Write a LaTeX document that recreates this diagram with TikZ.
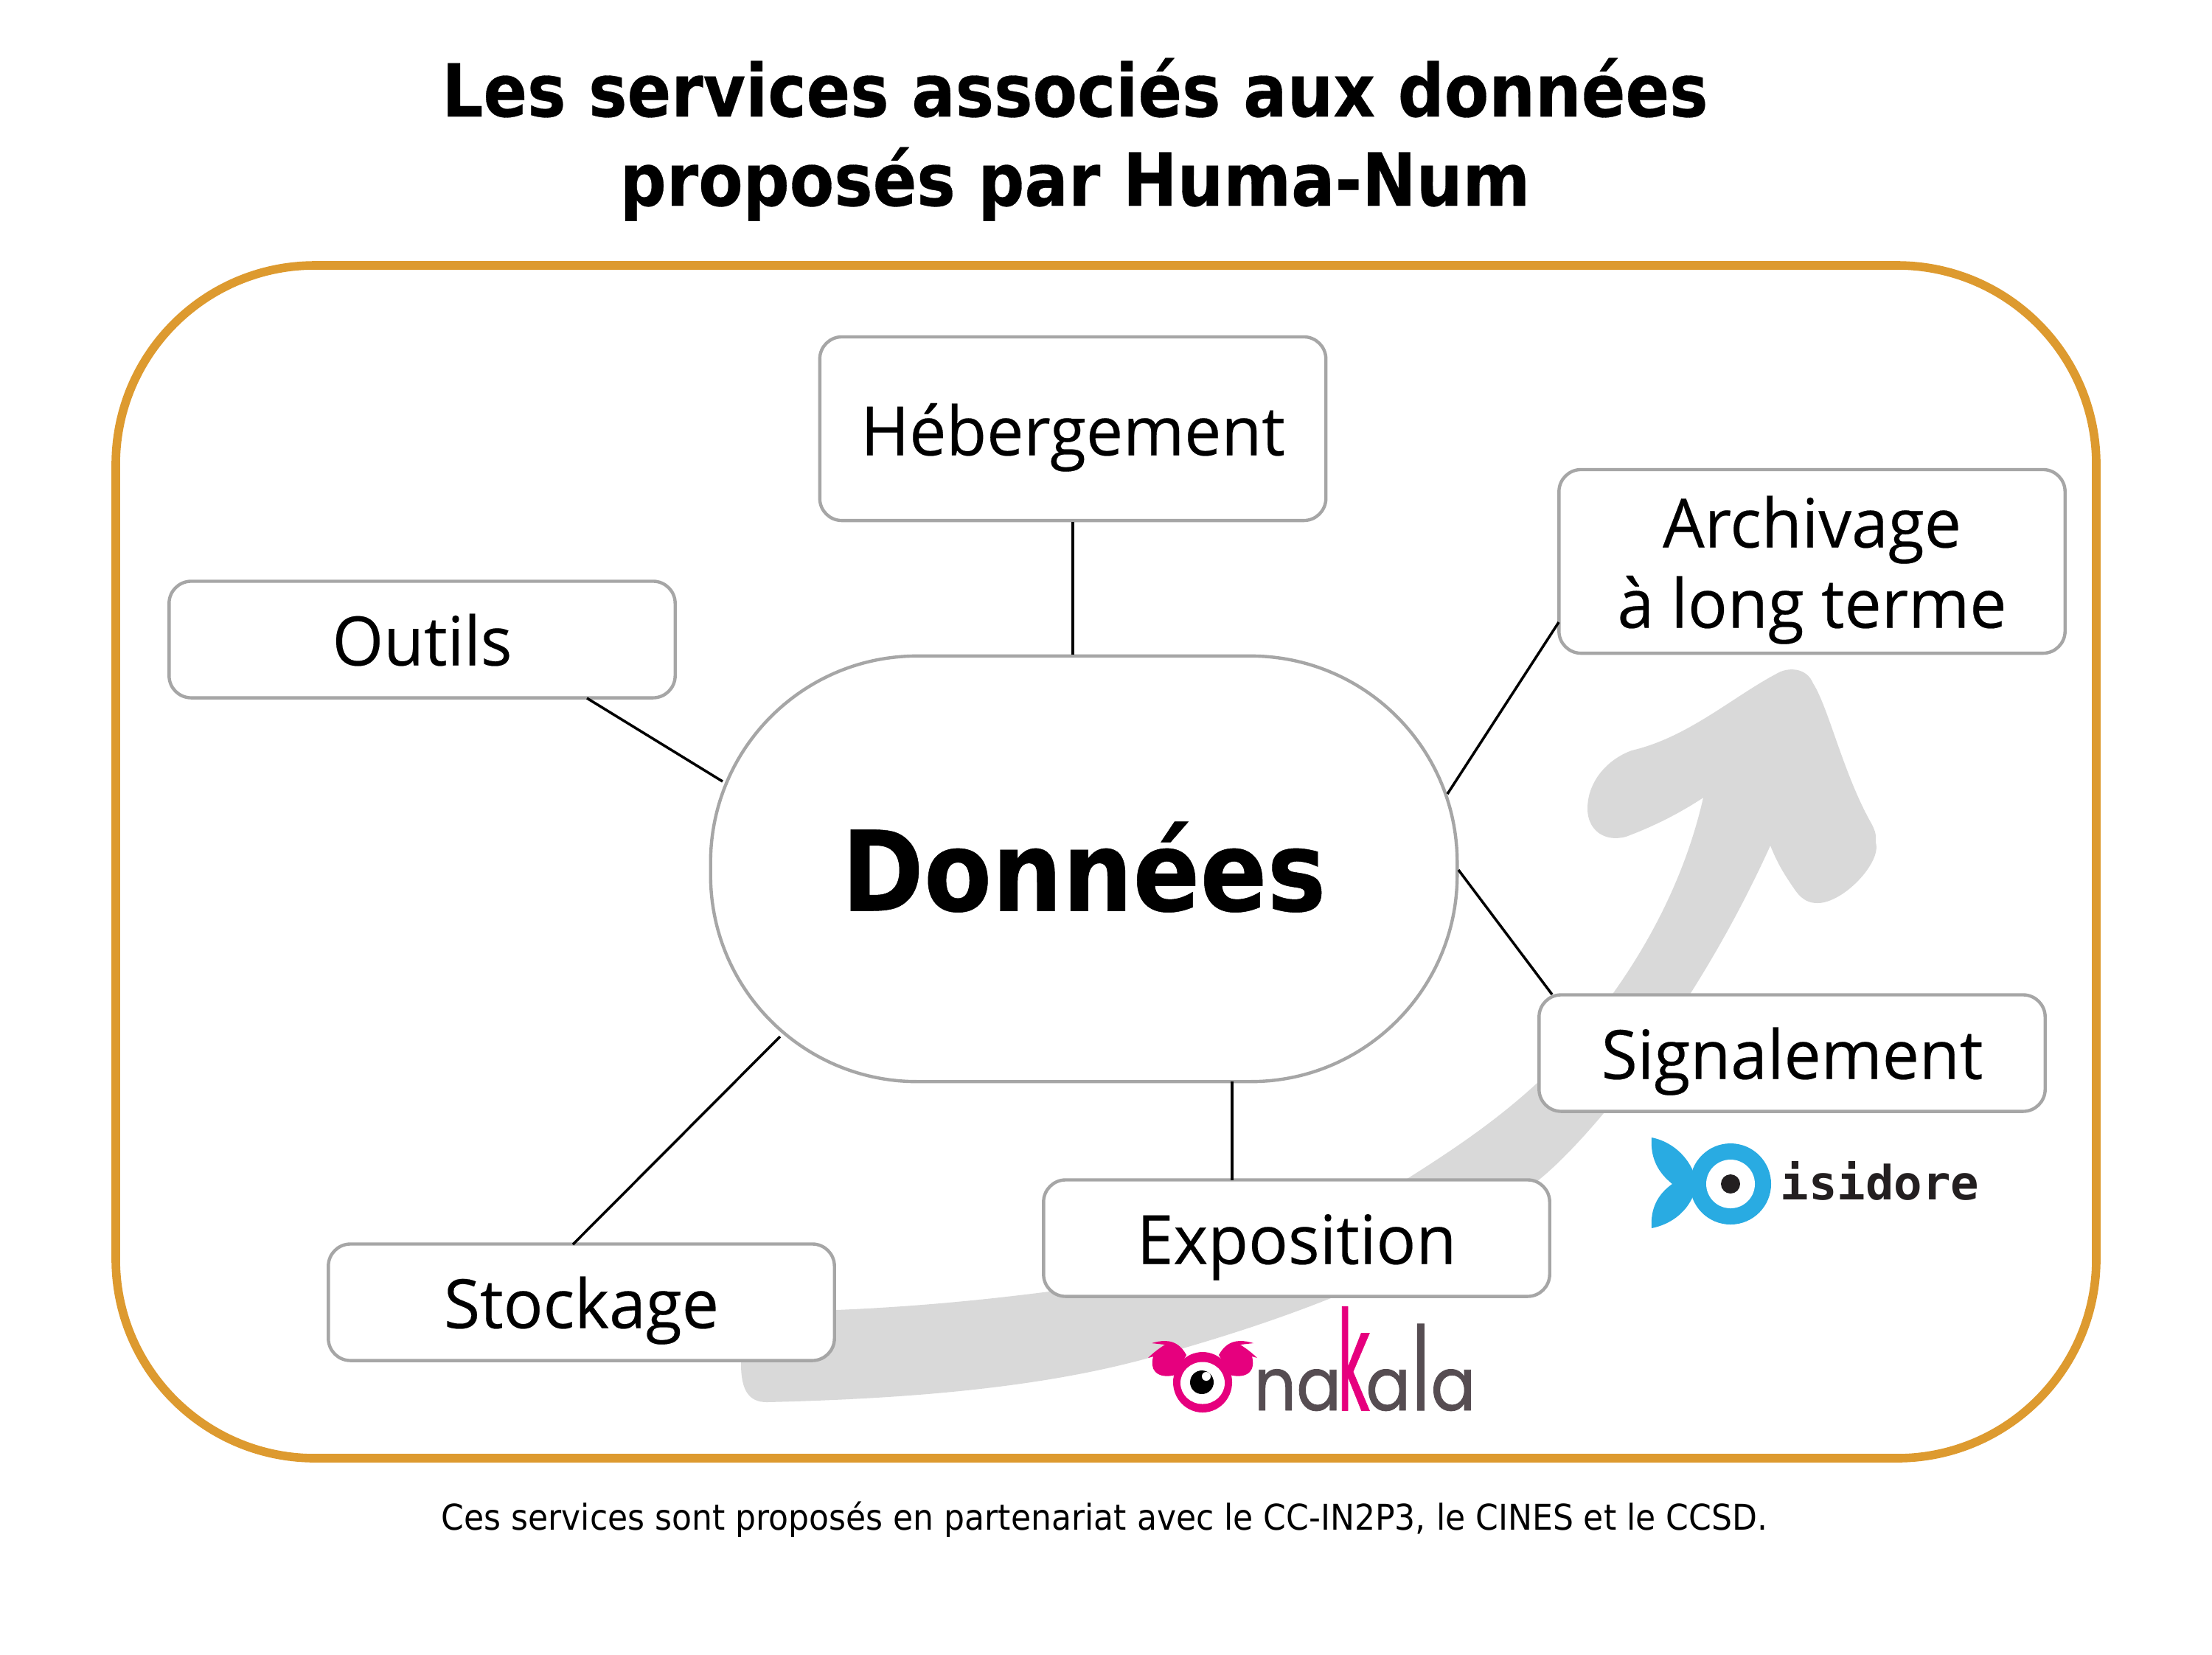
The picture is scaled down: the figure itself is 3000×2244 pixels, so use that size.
\documentclass[tikz,border=0pt]{standalone}
\usepackage{fontspec}
\usepackage{graphicx}
\newfontfamily\titlefont[FakeStretch=0.888,FakeBold=0.3]{DejaVu Sans}
\newfontfamily\bodyfont[FakeStretch=0.97,FakeBold=0.25]{Open Sans}
\newfontfamily\footfont[FakeStretch=0.915]{DejaVu Sans}
\newfontfamily\monofont{DejaVu Sans Mono}
\newfontfamily\logofont[FakeStretch=0.9,FakeBold=0.8]{Poppins}
\definecolor{orangeb}{HTML}{DD9A2F}
\definecolor{boxgray}{HTML}{A6A6A6}
\definecolor{arrowgray}{HTML}{D9D9D9}
\definecolor{nakpink}{HTML}{E6007E}
\definecolor{nakgray}{HTML}{564D52}
\definecolor{isiblue}{HTML}{29ABE2}
\definecolor{isidark}{HTML}{231F20}
\tikzset{
  svcbox/.style={draw=boxgray,line width=1.25pt,fill=white,rounded corners=0.3cm,inner sep=0pt,
    minimum width=6.86cm,font=\bodyfont\fontsize{26.2}{31}\selectfont,text height=0.72cm,text depth=0pt,align=center},
  shortbox/.style={svcbox,minimum height=1.58cm,text height=0.70cm},
  tallbox/.style={svcbox,minimum height=2.49cm},
  link/.style={line width=1pt,black},
  pinkfill/.style={fill=nakpink,draw=none},
  bluefill/.style={fill=isiblue,draw=none}
}
\begin{document}
\begin{tikzpicture}[x=0.01cm,y=-0.01cm]
\useasboundingbox (0,0) rectangle (3000,2244);
\fill[white] (0,0) rectangle (3000,2244);
% title
\node[anchor=base,align=center,inner sep=0pt,font=\titlefont\bfseries\fontsize{28.2}{34.4}\selectfont] (title) at (1458,279) {Les services associés aux données\\proposés par Huma-Num};
% frame
\draw[orangeb,line width=3.3pt,rounded corners=2.7cm] (157,360) rectangle (2843,1978);
% arrow
\fill[arrowgray] (1040,1902) .. controls (1250,1897) and (1420,1880) .. (1558,1842)
  .. controls (1730,1795) and (1950,1720) .. (2090,1598)
  .. controls (2160,1540) and (2300,1370) .. (2401,1147)
  .. controls (2412,1175) and (2424,1192) .. (2435,1208)
  .. controls (2445,1222) and (2455,1225) .. (2465,1225)
  .. controls (2500,1225) and (2552,1170) .. (2544,1143)
  .. controls (2545,1130) and (2542,1125) .. (2538,1117)
  .. controls (2500,1050) and (2480,960) .. (2459,927)
  .. controls (2450,905) and (2425,905) .. (2411,913)
  .. controls (2350,945) and (2290,1000) .. (2213,1018)
  .. controls (2180,1030) and (2153,1060) .. (2153,1097)
  .. controls (2153,1125) and (2175,1143) .. (2205,1135)
  .. controls (2240,1122) and (2275,1105) .. (2310,1082)
  .. controls (2290,1170) and (2250,1260) .. (2188,1347)
  .. controls (2150,1400) and (2120,1440) .. (2087,1467)
  .. controls (2030,1520) and (1970,1560) .. (1910,1598)
  .. controls (1760,1680) and (1600,1730) .. (1415,1753)
  .. controls (1320,1765) and (1230,1773) .. (1134,1777)
  -- (1050,1790) .. controls (1015,1800) and (1005,1820) .. (1005,1850)
  .. controls (1005,1885) and (1015,1902) .. (1040,1902) -- cycle;
% nodes
\node[draw=boxgray,line width=1.25pt,fill=white,rounded corners=2.8cm,inner sep=0pt,minimum width=10.12cm,minimum height=5.77cm,
  font=\titlefont\bfseries\fontsize{43}{50}\selectfont,text height=1.14cm,text depth=0pt] (don) at (1470,1178.5) {Données};
\node[tallbox] (heb) at (1455,581.5) {Hébergement};
\node[tallbox,text height=1.80cm] (arc) at (2457.5,761.5) {Archivage\\à long terme};
\node[shortbox] (out) at (572.5,867.5) {Outils};
\node[shortbox] (sig) at (2430.5,1428.5) {Signalement};
\node[shortbox] (exp) at (1758.5,1679.5) {Exposition};
\node[shortbox] (sto) at (788.5,1766.5) {Stockage};
% connector ends
\coordinate (outA) at (796,947);
\coordinate (donO) at (980,1060);
\coordinate (arcA) at (2114,844);
\coordinate (donA) at (1963,1077);
\coordinate (sigA) at (2105,1349);
\coordinate (donS) at (1978,1180);
\coordinate (stoA) at (777,1688);
\coordinate (donT) at (1058,1406);
\coordinate (expA) at (1671,1601);
\coordinate (donE) at (1671,1467);
\draw[link] (heb.south) -- (heb.south |- don.north);
\draw[link] (outA) -- (donO);
\draw[link] (arcA) -- (donA);
\draw[link] (sigA) -- (donS);
\draw[link] (stoA) -- (donT);
\draw[link] (expA) -- (donE);
% nakala logo
\fill[pinkfill] (1609,1838) .. controls (1603,1827) and (1594,1819) .. (1580,1819)
  .. controls (1574,1819) and (1568,1820) .. (1562,1822) -- (1580,1824)
  .. controls (1572,1829) and (1564,1835) .. (1557,1842) -- (1564,1840)
  .. controls (1562,1848) and (1562,1856) .. (1567,1861)
  .. controls (1573,1867) and (1583,1868) .. (1594,1865) -- cycle;
\fill[pinkfill] (1653,1838) .. controls (1659,1827) and (1668,1819) .. (1682,1819)
  .. controls (1688,1819) and (1694,1820) .. (1700,1822) -- (1682,1824)
  .. controls (1690,1829) and (1698,1835) .. (1705,1842) -- (1698,1840)
  .. controls (1700,1848) and (1700,1856) .. (1695,1861)
  .. controls (1689,1867) and (1679,1868) .. (1668,1865) -- cycle;
\fill[pinkfill] (1631,1875) ellipse [x radius=40,y radius=41];
\fill[white] (1631,1876) ellipse [x radius=30,y radius=28.5];
\fill[black] (1630,1875) ellipse [x radius=16,y radius=16];
\fill[white] (1636,1867) circle [radius=6];
\node[anchor=base west,inner sep=0pt,text=nakgray,font=\logofont\fontsize{28.4}{34}\selectfont] (nak) at (1700,1913) {na\kern-1.5pt\textcolor{nakpink}{\scalebox{.5}[1]{\fontsize{54}{60}\selectfont k}}\kern-1.5pt a\kern.4pt\scalebox{.7}[1]{\fontsize{45}{50}\selectfont l}\kern.4pt a};
% isidore logo
\fill[bluefill] (2240,1543) .. controls (2265,1548) and (2285,1565) .. (2295,1586)
  -- (2295,1625) .. controls (2285,1646) and (2265,1661) .. (2240,1666)
  .. controls (2238,1640) and (2248,1620) .. (2268,1606)
  .. controls (2248,1590) and (2238,1570) .. (2240,1543) -- cycle;
\fill[bluefill] (2347,1606) circle [radius=55];
\fill[white] (2347,1606) circle [radius=33];
\fill[isidark] (2347,1606) circle [radius=13];
\node[anchor=base west,inner sep=0pt,text=isidark,font=\monofont\bfseries\fontsize{18.2}{22}\selectfont] (isi) at (2414,1627) {isidore};
% footer
\node[anchor=base,inner sep=0pt,font=\footfont\fontsize{13.7}{16}\selectfont] (foot) at (1498,2075) {Ces services sont proposés en partenariat avec le CC-IN2P3, le CINES et le CCSD.};
\end{tikzpicture}
\end{document}
